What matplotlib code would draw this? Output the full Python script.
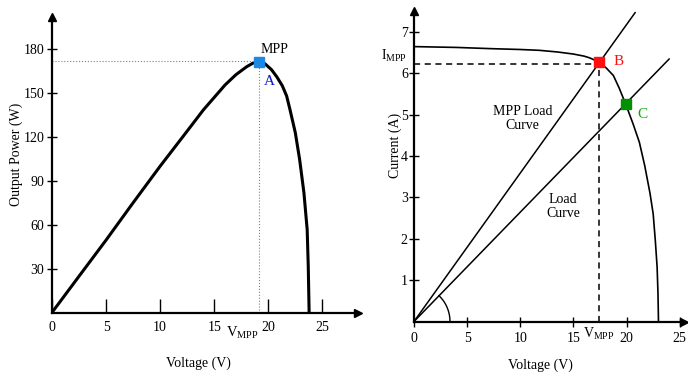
# pv_curves.py
# P-V curve with MPP (left) and I-V curve with load lines (right)

import matplotlib.pyplot as plt
import numpy as np

plt.rcParams["font.family"] = ["Liberation Serif", "DejaVu Serif"]
plt.rcParams["mathtext.fontset"] = "custom"
plt.rcParams["mathtext.rm"] = "Liberation Serif"

# Left panel: output power vs voltage
pv_volts = [0, 2.5, 5, 7.5, 10, 12.5, 14, 15, 16, 17, 18, 18.6, 19.1, 19.7,
            20.3, 20.8, 21.3, 21.7, 22.0, 22.5, 22.9, 23.3, 23.6, 23.7, 23.78]
pv_power = [0, 24.8, 49.5, 75, 100, 124, 138.5, 147, 155.5, 162.5, 168, 170.5,
            172, 170, 166, 161, 155, 148, 139, 123, 104.7, 81.8, 56.6, 31.4, 0]
mpp_a = (19.1, 171)
p_mpp = 172
pv_xticks = [0, 5, 10, 15, 20, 25]
pv_yticks = [30, 60, 90, 120, 150, 180]

# Right panel: current vs voltage with load lines
iv_volts = [0, 4, 7.3, 10, 11.8, 13.5, 15.0, 16.0, 16.5, 17.4, 18.1, 18.76,
            19.3, 19.9, 20.6, 21.2, 21.7, 22.2, 22.5, 22.7, 22.87, 22.95, 23.0]
iv_amps = [6.64, 6.62, 6.59, 6.57, 6.55, 6.51, 6.46, 6.41, 6.37, 6.27, 6.12,
           5.94, 5.64, 5.26, 4.78, 4.33, 3.77, 3.1, 2.6, 1.96, 1.32, 0.7, 0]
mpp_line_v = [0, 20.8]
mpp_line_i = [0, 7.46]
load_line_v = [0, 24.0]
load_line_i = [0, 6.34]
point_b = (17.4, 6.27)
point_c = (19.9, 5.26)
i_mpp = 6.22
iv_xticks = [0, 5, 10, 15, 20, 25]
iv_yticks = [1, 2, 3, 4, 5, 6, 7]

W, H = 688, 378
fig = plt.figure(figsize=(W / 100, H / 100), dpi=100)


def frac(x0, y0, x1, y1):
    # pixel box (origin at top-left) -> figure fraction rect
    return [x0 / W, (H - y0) / H, (x1 - x0) / W, (y0 - y1) / H]


def axis_arrows(ax):
    for s in ["top", "right"]:
        ax.spines[s].set_visible(False)
    for s in ["left", "bottom"]:
        ax.spines[s].set_linewidth(1.6)
    ax.plot(1, 0, ">k", ms=6, transform=ax.get_yaxis_transform(), clip_on=False)
    ax.plot(0, 1, "^k", ms=6, transform=ax.get_xaxis_transform(), clip_on=False)


# ---- left
ax1 = fig.add_axes(frac(52, 312.5, 358, 17))
axis_arrows(ax1)
ax1.plot(pv_volts, pv_power, color="black", lw=2.2, solid_capstyle="round",
         solid_joinstyle="round")
ax1.plot([0, mpp_a[0]], [p_mpp, p_mpp], color="gray", lw=0.8, ls=":")
ax1.plot([mpp_a[0], mpp_a[0]], [0, p_mpp], color="gray", lw=0.8, ls=":")
ax1.plot(*mpp_a, "s", color="#1e88e5", ms=7)
ax1.text(20.6, 180, "MPP", fontsize=10, ha="center", va="center")
ax1.text(20.1, 158, "A", fontsize=11, color="#1010d0", ha="center", va="center")
ax1.text(17.6, -0.07, r"$\mathregular{V_{MPP}}$", fontsize=10.5, ha="center",
         va="center", transform=ax1.get_xaxis_transform())
ax1.set_xlim(0, 28.3)
ax1.set_ylim(0, 202)
ax1.set_xticks(pv_xticks)
ax1.set_yticks(pv_yticks)
ax1.tick_params(axis="x", direction="in", length=10, width=1, pad=6, labelsize=10)
ax1.tick_params(axis="y", direction="inout", length=7, width=1, pad=2, labelsize=10)
ax1.set_xlabel("Voltage (V)", fontsize=10)
ax1.set_ylabel("Output Power (W)", fontsize=10)
ax1.xaxis.set_label_coords(0.479, -0.15)
ax1.yaxis.set_label_coords(-0.095, 0.536)

# ---- right
ax2 = fig.add_axes(frac(414, 321.5, 684, 11))
axis_arrows(ax2)
ax2.plot(iv_volts, iv_amps, color="black", lw=1.2, solid_joinstyle="round")
ax2.plot(mpp_line_v, mpp_line_i, color="black", lw=1.1)
ax2.plot(load_line_v, load_line_i, color="black", lw=1.1)
ax2.plot([0, point_b[0]], [i_mpp, i_mpp], "k--", lw=1.1, dashes=(4, 3))
ax2.plot([point_b[0], point_b[0]], [0, i_mpp], "k--", lw=1.1, dashes=(4, 3))
ax2.plot(*point_b, "s", color="#ff1010", ms=6.5)
ax2.plot(*point_c, "s", color="#009000", ms=6.5)
ax2.text(18.8, 6.27, "B", fontsize=11, color="#ff1010", ha="left", va="center")
ax2.text(21.0, 5.0, "C", fontsize=11, color="#00b000", ha="left", va="center")
ax2.text(10.2, 4.9, "MPP Load\nCurve", fontsize=10, ha="center", va="center",
         linespacing=1.1)
ax2.text(14.0, 2.77, "Load\nCurve", fontsize=10, ha="center", va="center",
         linespacing=1.1)
ax2.text(-0.073, 6.42, r"$\mathregular{I_{MPP}}$", fontsize=10, ha="center",
         va="center", transform=ax2.get_yaxis_transform())
ax2.text(point_b[0], -0.04, r"$\mathregular{V_{MPP}}$", fontsize=10,
         ha="center", va="center", transform=ax2.get_xaxis_transform())

# small angle arc at the origin (36 px radius)
t = np.linspace(0, np.deg2rad(46), 40)
ax2.plot(36 / 10.64 * np.cos(t), 36 / 41.5 * np.sin(t), color="black", lw=1.0)

ax2.set_xlim(0, 25.4)
ax2.set_ylim(0, 7.5)
ax2.set_xticks(iv_xticks)
ax2.set_yticks(iv_yticks)
ax2.tick_params(axis="x", direction="inout", length=7, width=1, pad=4, labelsize=10)
ax2.tick_params(axis="y", direction="inout", length=7, width=1, pad=1, labelsize=10)
ax2.set_xlabel("Voltage (V)", fontsize=10)
ax2.set_ylabel("Current (A)", fontsize=10)
ax2.xaxis.set_label_coords(0.467, -0.12)
ax2.yaxis.set_label_coords(-0.044, 0.568)

fig.savefig("out.png", dpi=100)
